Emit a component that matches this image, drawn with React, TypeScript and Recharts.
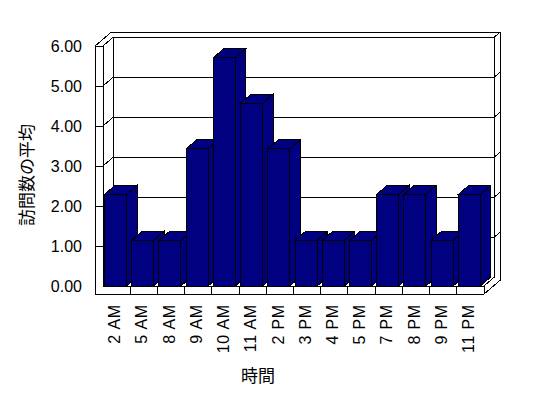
import { BarChart, Bar, XAxis, YAxis, CartesianGrid, Label } from "recharts";

// data (averages over 7 days)
const HOURS = ["2 AM", "5 AM", "8 AM", "9 AM", "10 AM", "11 AM", "2 PM", "3 PM", "4 PM", "5 PM", "7 PM", "8 PM", "9 PM", "11 PM"];
const AVG_VISITS = [2.29, 1.14, 1.14, 3.43, 5.71, 4.57, 3.43, 1.14, 1.14, 1.14, 2.29, 2.29, 1.14, 2.29];
const Y_TICKS = [0, 1, 2, 3, 4, 5, 6];

const data = HOURS.map((h, i) => ({ hour: h, avg: AVG_VISITS[i] }));

// layout of the 3D box
const W = 548;
const H = 398;
const PLOT_LEFT = 103;
const PLOT_TOP = 46;
const RIGHT_GAP = 64;
const XAXIS_H = 112;
const PLOT_RIGHT = W - RIGHT_GAP;
const PLOT_BOTTOM = H - XAXIS_H;
const BAND = (PLOT_RIGHT - PLOT_LEFT) / HOURS.length;
const WALL_LEFT = 95;
const FLOOR_BOTTOM = PLOT_BOTTOM + 8;
const DX = 10.5;
const DY = -9;
const TX = 6;
const TY = -5;

const NAVY = "#000080";
const LINE = { stroke: "#000", strokeWidth: 1, fill: "none", shapeRendering: "crispEdges" };
const FONT = "'Liberation Sans', Arial, sans-serif";
const JP_FONT = "'Noto Sans CJK JP', sans-serif";

function Frame() {
  const L = PLOT_LEFT, R = PLOT_RIGHT, T = PLOT_TOP, B = PLOT_BOTTOM, FB = FLOOR_BOTTOM;
  return (
    <g>
      {/* back wall */}
      <line x1={WALL_LEFT + DX + TX} y1={T + DY + TY} x2={R + DX + TX} y2={T + DY + TY} {...LINE} />
      <line x1={R + DX + TX} y1={T + DY + TY} x2={R + DX + TX} y2={FB + DY + TY} {...LINE} />
      <line x1={L + DX} y1={T + DY} x2={L + DX} y2={B + DY} {...LINE} />
      <line x1={R + DX} y1={T + DY} x2={R + DX} y2={B + DY} {...LINE} />
      {/* left wall */}
      <line x1={WALL_LEFT} y1={T} x2={WALL_LEFT + DX + TX} y2={T + DY + TY} {...LINE} />
      <line x1={WALL_LEFT} y1={T} x2={WALL_LEFT} y2={FB} {...LINE} />
      <line x1={L} y1={T} x2={L} y2={B} {...LINE} />
      {/* floor */}
      <line x1={L} y1={B} x2={R} y2={B} {...LINE} />
      <line x1={WALL_LEFT} y1={FB} x2={R} y2={FB} {...LINE} />
      <line x1={R} y1={B} x2={R} y2={FB} {...LINE} />
      <line x1={R} y1={B} x2={R + DX} y2={B + DY} {...LINE} />
      <line x1={R} y1={FB} x2={R + DX + TX} y2={FB + DY + TY} {...LINE} />
    </g>
  );
}

function renderGridLine(props: any) {
  const { x1, x2, y1, index } = props;
  const isFloor = Math.abs(y1 - PLOT_BOTTOM) < 0.5;
  return (
    <g key={`grid-${index}`}>
      {index === 0 && <Frame />}
      {!isFloor && (
        <g>
          <line x1={WALL_LEFT} y1={y1} x2={x1} y2={y1} {...LINE} />
          <line x1={x1} y1={y1} x2={x1 + DX} y2={y1 + DY} {...LINE} />
          <line x1={x1 + DX} y1={y1 + DY} x2={x2 + DX} y2={y1 + DY} {...LINE} />
          <line x1={x2 + DX} y1={y1 + DY} x2={x2 + DX + TX} y2={y1 + DY + TY} {...LINE} />
        </g>
      )}
    </g>
  );
}

function Bar3D(props: any) {
  const { y, width, height } = props;
  const x = props.x - 1.5;
  if (height == null || height <= 0) return null;
  const side = `${x + width},${y} ${x + width + DX},${y + DY} ${x + width + DX},${y + height + DY} ${x + width},${y + height}`;
  const top = `${x},${y} ${x + DX},${y + DY} ${x + width + DX},${y + DY} ${x + width},${y}`;
  return (
    <g shapeRendering="crispEdges">
      <polygon points={side} fill={NAVY} stroke="#000" strokeWidth={1} />
      <polygon points={top} fill={NAVY} stroke="#000" strokeWidth={1} />
      <rect x={x} y={y} width={width} height={height} fill={NAVY} stroke="#000" strokeWidth={1} />
    </g>
  );
}

function HourTick(props: any) {
  const { x, payload, index } = props;
  return (
    <g>
      {index < HOURS.length - 1 && (
        <line x1={x + BAND / 2} y1={PLOT_BOTTOM} x2={x + BAND / 2} y2={FLOOR_BOTTOM} {...LINE} />
      )}
      <text
        transform={`translate(${x - 2},${PLOT_BOTTOM + 18}) rotate(-90)`}
        textAnchor="end"
        dy="0.35em"
        fontSize={16}
        letterSpacing={0.8}
        fontFamily={FONT}
        fill="#000"
      >
        {payload.value}
      </text>
    </g>
  );
}

function ValueTick(props: any) {
  const { y, payload } = props;
  return (
    <text x={82} y={y} dy="0.35em" textAnchor="end" fontSize={16} fontFamily={FONT} fill="#000">
      {Number(payload.value).toFixed(2)}
    </text>
  );
}

export default function App() {
  return (
    <div style={{ position: "absolute", left: 0, top: 0, width: W, height: H, background: "#fff" }}>
      <BarChart width={W} height={H} data={data} margin={{ top: PLOT_TOP, right: RIGHT_GAP, bottom: 0, left: 0 }} barSize={22}>
        <CartesianGrid horizontal={renderGridLine} vertical={false} />
        <XAxis dataKey="hour" height={XAXIS_H} axisLine={false} tickLine={false} interval={0} tick={<HourTick />}>
          <Label
            content={() => (
              <text x={258} y={376} dy="0.35em" textAnchor="middle" fontSize={17} fontFamily={JP_FONT} fill="#000">
                時間
              </text>
            )}
          />
        </XAxis>
        <YAxis
          width={PLOT_LEFT}
          domain={[0, 6]}
          ticks={Y_TICKS}
          axisLine={false}
          tickLine={false}
          tick={<ValueTick />}
        >
          <Label
            content={() => (
              <text
                transform="translate(27,175) rotate(-90)"
                dy="0.35em"
                textAnchor="middle"
                fontSize={17}
                fontFamily={JP_FONT}
                fill="#000"
              >
                訪問数の平均
              </text>
            )}
          />
        </YAxis>
        <Bar dataKey="avg" shape={<Bar3D />} isAnimationActive={false} />
      </BarChart>
    </div>
  );
}
